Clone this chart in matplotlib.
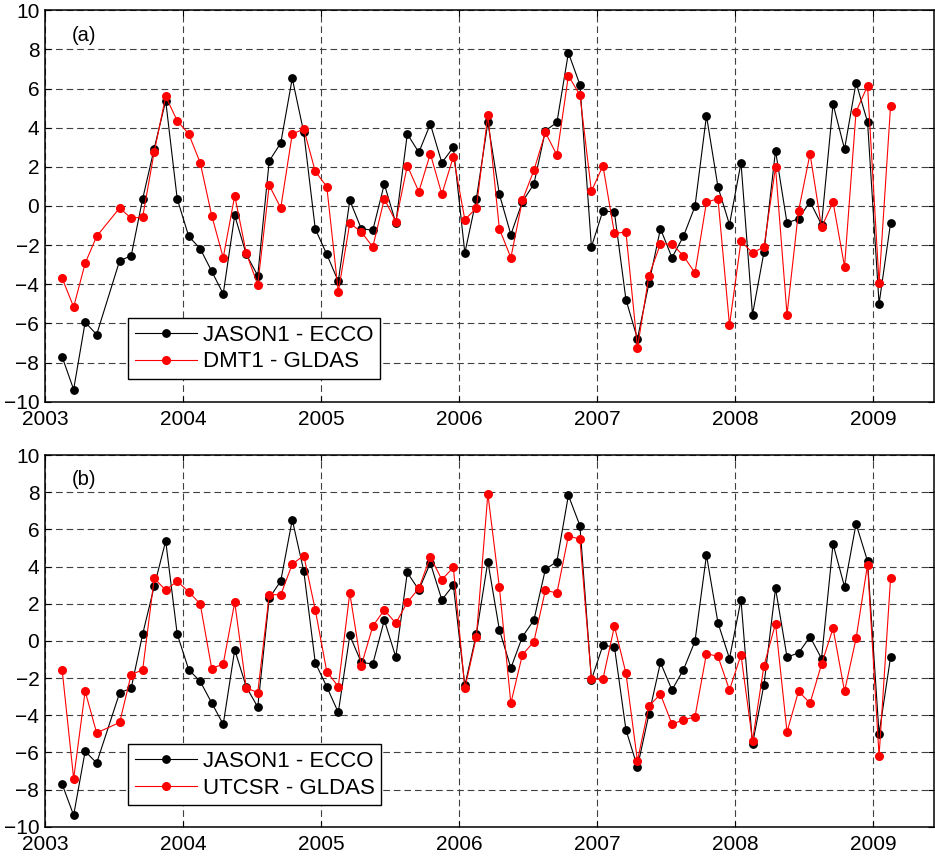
import numpy as np
import matplotlib
matplotlib.use('Agg')
import matplotlib.pyplot as plt

plt.rcParams['font.family'] = ['Liberation Sans', 'DejaVu Sans']

# monthly values, Feb 2003 - Feb 2009 (June 2003 missing)
months = list(range(2, 6)) + list(range(7, 75))
t = [2003 + (m - 0.5) / 12 for m in months]

jason_ecco = [-7.71, -9.38, -5.94, -6.57,
              -2.79, -2.55, 0.37, 2.93, 5.38, 0.37,
              -1.55, -2.18, -3.34, -4.49, -0.48, -2.47, -3.56, 2.30, 3.22, 6.52, 3.76, -1.17,
              -2.47, -3.85, 0.29, -1.16, -1.24, 1.12, -0.87, 3.68, 2.74, 4.19, 2.21, 3.00,
              -2.40, 0.36, 4.27, 0.60, -1.46, 0.22, 1.12, 3.85, 4.27, 7.83, 6.20, -2.09,
              -0.24, -0.32, -4.78, -6.79, -3.95, -1.16, -2.64, -1.55, -0.02, 4.61, 0.97, -0.95,
              2.21, -5.55, -2.35, 2.83, -0.87, -0.65, 0.22, -0.95, 5.21, 2.91, 6.30, 4.29,
              -5.00, -0.87]

dmt1_gldas = [-3.69, -5.16, -2.93, -1.55,
              -0.10, -0.63, -0.56, 2.76, 5.60, 4.36,
              3.68, 2.21, -0.49, -2.64, 0.53, -2.40, -4.03, 1.06, -0.10, 3.68, 3.93, 1.77,
              0.99, -4.39, -0.87, -1.33, -2.09, 0.37, -0.80, 2.06, 0.73, 2.67, 0.60, 2.52,
              -0.70, -0.10, 4.66, -1.17, -2.64, 0.29, 1.82, 3.76, 2.60, 6.66, 5.67, 0.75,
              2.06, -1.40, -1.33, -7.25, -3.56, -1.94, -1.94, -2.55, -3.42, 0.20, 0.37, -6.09,
              -1.79, -2.40, -2.09, 1.99, -5.55, -0.26, 2.67, -1.09, 0.20, -3.10, 4.82, 6.14,
              -3.95, 5.12]

utcsr_gldas = [-1.56, -7.41, -2.71, -4.95,
               -4.39, -1.81, -1.56, 3.37, 2.73, 3.21,
               2.64, 1.99, -1.49, -1.24, 2.08, -2.53, -2.78, 2.49, 2.48, 4.13, 4.59, 1.67,
               -1.65, -2.46, 2.57, -1.33, 0.79, 1.67, 0.95, 2.08, 2.82, 4.52, 3.30, 3.95,
               -2.55, 0.22, 7.91, 2.89, -3.35, -0.75, -0.04, 2.73, 2.57, 5.65, 5.47, -2.06,
               -2.06, 0.79, -1.74, -6.46, -3.50, -2.87, -4.48, -4.25, -4.09, -0.68, -0.84, -2.64,
               -0.75, -5.38, -1.33, 0.93, -4.90, -2.71, -3.35, -1.26, 0.68, -2.71, 0.13, 4.11,
               -6.19, 3.37]

panels = [('(a)', 'DMT1 - GLDAS', dmt1_gldas), ('(b)', 'UTCSR - GLDAS', utcsr_gldas)]
xticks = [2003, 2004, 2005, 2006, 2007, 2008, 2009]
yticks = list(range(-10, 11, 2))

fig = plt.figure(figsize=(9.35, 8.61), dpi=100)
boxes = [[0.048, 0.5335, 0.951, 0.4545], [0.048, 0.0398, 0.951, 0.4317]]

for box, (tag, lab, red) in zip(boxes, panels):
    ax = fig.add_axes(box)
    ax.plot(t, jason_ecco, '-o', color='k', lw=0.8, ms=5.3, label='JASON1 - ECCO')
    ax.plot(t, red, '-o', color='r', mec='r', mfc='r', lw=0.8, ms=5.5, label=lab)
    ax.set_xlim(2003, 2009.44)
    ax.set_ylim(-10, 10)
    ax.set_xticks(xticks)
    ax.set_yticks(yticks)
    ax.tick_params(direction='in', top=True, right=True, labelsize=15, length=4, width=0.8)
    ax.tick_params(axis='x', pad=6)
    ax.tick_params(axis='y', pad=4)
    ax.grid(True, color='0.25', linestyle=(0, (6, 3.5)), linewidth=0.8)
    for s in ax.spines.values():
        s.set_linewidth(1.1)
    ax.text(0.03, 0.935, tag, transform=ax.transAxes, fontsize=14.5, va='center')
    leg = ax.legend(loc='lower left', bbox_to_anchor=(0.094, 0.058), borderaxespad=0,
                    fontsize=16, handlelength=2.8, handletextpad=0.25,
                    labelspacing=0.25, borderpad=0.3, fancybox=False, framealpha=1)
    leg.get_frame().set_edgecolor('k')
    leg.get_frame().set_linewidth(1)

plt.savefig('out.png', dpi=100)
